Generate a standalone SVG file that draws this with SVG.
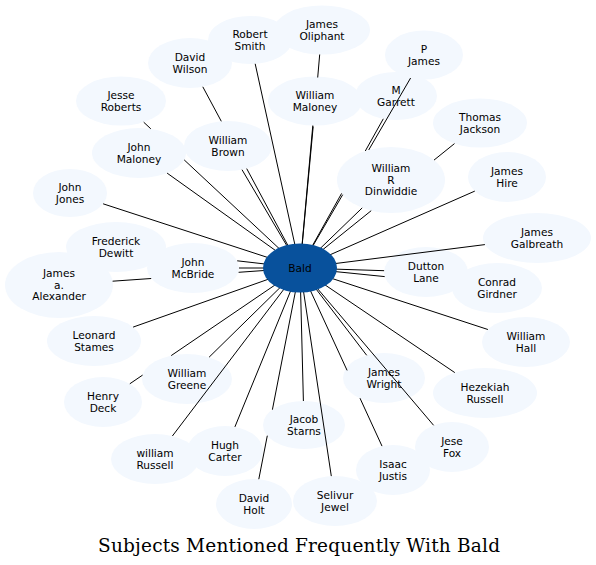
<svg xmlns="http://www.w3.org/2000/svg" width="596" height="565" viewBox="0 0 596 565">
<style>
.n ellipse{fill:#f3f8fe;stroke:none}
text{font-family:"DejaVu Sans",sans-serif;font-size:10.6px;text-anchor:middle;fill:#000}
#edges path{stroke:#000;stroke-width:1;fill:none}
#node-bald ellipse{fill:#08519c}
.title{font-family:"DejaVu Serif",serif;font-size:18.5px}
</style>
<rect width="596" height="565" fill="#fff"/>
<g id="nodes">
<g id="node-robert-smith" class="n"><ellipse cx="250" cy="40" rx="42" ry="24"/><text x="250" y="38">Robert<tspan x="250" dy="11.6">Smith</tspan></text></g>
<g id="node-james-oliphant" class="n"><ellipse cx="322" cy="30" rx="48" ry="24.5"/><text x="322" y="28">James<tspan x="322" dy="11.6">Oliphant</tspan></text></g>
<g id="node-david-wilson" class="n"><ellipse cx="190" cy="63" rx="42" ry="25"/><text x="190" y="61">David<tspan x="190" dy="11.6">Wilson</tspan></text></g>
<g id="node-william-maloney" class="n"><ellipse cx="315" cy="101" rx="47" ry="24.5"/><text x="315" y="99">William<tspan x="315" dy="11.6">Maloney</tspan></text></g>
<g id="node-p-james" class="n"><ellipse cx="424" cy="55" rx="39" ry="24.5"/><text x="424" y="53">P<tspan x="424" dy="11.6">James</tspan></text></g>
<g id="node-m-garrett" class="n"><ellipse cx="396" cy="96" rx="41" ry="24"/><text x="396" y="94">M<tspan x="396" dy="11.6">Garrett</tspan></text></g>
<g id="node-jesse-roberts" class="n"><ellipse cx="121" cy="101" rx="45" ry="24.5"/><text x="121" y="99">Jesse<tspan x="121" dy="11.6">Roberts</tspan></text></g>
<g id="node-john-maloney" class="n"><ellipse cx="139" cy="153" rx="47" ry="25"/><text x="139" y="151">John<tspan x="139" dy="11.6">Maloney</tspan></text></g>
<g id="node-william-brown" class="n"><ellipse cx="228" cy="146" rx="44" ry="25"/><text x="228" y="144">William<tspan x="228" dy="11.6">Brown</tspan></text></g>
<g id="node-thomas-jackson" class="n"><ellipse cx="480" cy="123" rx="47" ry="24.5"/><text x="480" y="121">Thomas<tspan x="480" dy="11.6">Jackson</tspan></text></g>
<g id="node-william-r-dinwiddie" class="n"><ellipse cx="391" cy="180" rx="54" ry="33"/><text x="391" y="172.2">William<tspan x="391" dy="11.6">R</tspan><tspan x="391" dy="11.6">Dinwiddie</tspan></text></g>
<g id="node-james-hire" class="n"><ellipse cx="507" cy="177" rx="39" ry="25"/><text x="507" y="175">James<tspan x="507" dy="11.6">Hire</tspan></text></g>
<g id="node-john-jones" class="n"><ellipse cx="70" cy="193" rx="37" ry="24"/><text x="70" y="191">John<tspan x="70" dy="11.6">Jones</tspan></text></g>
<g id="node-frederick-dewitt" class="n"><ellipse cx="116" cy="247" rx="50" ry="25"/><text x="116" y="245">Frederick<tspan x="116" dy="11.6">Dewitt</tspan></text></g>
<g id="node-john-mcbride" class="n"><ellipse cx="193" cy="268" rx="46" ry="25"/><text x="193" y="266">John<tspan x="193" dy="11.6">McBride</tspan></text></g>
<g id="node-james-a-alexander" class="n"><ellipse cx="59" cy="285" rx="54" ry="33"/><text x="59" y="277.2">James<tspan x="59" dy="11.6">a.</tspan><tspan x="59" dy="11.6">Alexander</tspan></text></g>
<g id="node-james-galbreath" class="n"><ellipse cx="537" cy="238" rx="54" ry="25"/><text x="537" y="236">James<tspan x="537" dy="11.6">Galbreath</tspan></text></g>
<g id="node-dutton-lane" class="n"><ellipse cx="426" cy="272" rx="42" ry="25"/><text x="426" y="270">Dutton<tspan x="426" dy="11.6">Lane</tspan></text></g>
<g id="node-conrad-girdner" class="n"><ellipse cx="497" cy="288" rx="45" ry="25"/><text x="497" y="286">Conrad<tspan x="497" dy="11.6">Girdner</tspan></text></g>
<g id="node-leonard-stames" class="n"><ellipse cx="94" cy="341" rx="47" ry="25"/><text x="94" y="339">Leonard<tspan x="94" dy="11.6">Stames</tspan></text></g>
<g id="node-william-hall" class="n"><ellipse cx="526" cy="342" rx="44" ry="25"/><text x="526" y="340">William<tspan x="526" dy="11.6">Hall</tspan></text></g>
<g id="node-william-greene" class="n"><ellipse cx="187" cy="379" rx="45" ry="25"/><text x="187" y="377">William<tspan x="187" dy="11.6">Greene</tspan></text></g>
<g id="node-henry-deck" class="n"><ellipse cx="103" cy="402" rx="39" ry="25"/><text x="103" y="400">Henry<tspan x="103" dy="11.6">Deck</tspan></text></g>
<g id="node-james-wright" class="n"><ellipse cx="384" cy="378" rx="41" ry="25"/><text x="384" y="376">James<tspan x="384" dy="11.6">Wright</tspan></text></g>
<g id="node-hezekiah-russell" class="n"><ellipse cx="485" cy="393" rx="52" ry="25"/><text x="485" y="391">Hezekiah<tspan x="485" dy="11.6">Russell</tspan></text></g>
<g id="node-jacob-starns" class="n"><ellipse cx="304" cy="425" rx="41" ry="24"/><text x="304" y="423">Jacob<tspan x="304" dy="11.6">Starns</tspan></text></g>
<g id="node-hugh-carter" class="n"><ellipse cx="225" cy="451" rx="38" ry="25"/><text x="225" y="449">Hugh<tspan x="225" dy="11.6">Carter</tspan></text></g>
<g id="node-william-russell" class="n"><ellipse cx="155" cy="459" rx="44" ry="25"/><text x="155" y="457">william<tspan x="155" dy="11.6">Russell</tspan></text></g>
<g id="node-jese-fox" class="n"><ellipse cx="452" cy="447" rx="37" ry="25"/><text x="452" y="445">Jese<tspan x="452" dy="11.6">Fox</tspan></text></g>
<g id="node-isaac-justis" class="n"><ellipse cx="393" cy="470" rx="37" ry="25"/><text x="393" y="468">Isaac<tspan x="393" dy="11.6">Justis</tspan></text></g>
<g id="node-david-holt" class="n"><ellipse cx="254" cy="504" rx="38" ry="25"/><text x="254" y="502">David<tspan x="254" dy="11.6">Holt</tspan></text></g>
<g id="node-selivur-jewel" class="n"><ellipse cx="335" cy="501" rx="42" ry="25"/><text x="335" y="499">Selivur<tspan x="335" dy="11.6">Jewel</tspan></text></g>
</g>
<g id="edges">
<path d="M300 268L255.2 63.8"/>
<path d="M300 268L313.2 126.5M317.7 77.5L319.7 54.5"/>
<path d="M300 268L312.8 125.5"/>
<path d="M300 268L246.7 168.6M221.3 121.3L202.8 86.8"/>
<path d="M300 268L242 169.7"/>
<path d="M300 268L184.2 159.9M150.8 128.8L143.7 122.2"/>
<path d="M300 268L167.1 173.1"/>
<path d="M300 268L103.1 203.8"/>
<path d="M300 268L237.2 260.8"/>
<path d="M300 268L239 268"/>
<path d="M300 268L238.6 272.3M151.2 278.5L112.6 281.2"/>
<path d="M300 268L133.1 327.1"/>
<path d="M300 268L171.2 355.6M142.6 375.1L129.8 383.8"/>
<path d="M300 268L209.1 357.2"/>
<path d="M300 268L172.4 436"/>
<path d="M300 268L234.9 426.9"/>
<path d="M300 268L272.4 409.7M267.3 435.7L258.8 479.2"/>
<path d="M300 268L303.4 401"/>
<path d="M300 268L331.3 476.1"/>
<path d="M300 268L366.7 355.3"/>
<path d="M300 268L347.1 370.4M360 398.2L382 446.1"/>
<path d="M300 268L433.6 425.3"/>
<path d="M300 268L454.8 372.6"/>
<path d="M300 268L487.9 329.5"/>
<path d="M300 268L384.7 276.6"/>
<path d="M300 268L384.1 270.7"/>
<path d="M300 268L484.9 244.6"/>
<path d="M300 268L474.8 191.1"/>
<path d="M300 268L371.2 210.7M434 160.1L454.5 143.6"/>
<path d="M300 268L362.2 207.9"/>
<path d="M300 268L341.6 193.4M365.3 151L383.3 118.8"/>
<path d="M300 268L342.7 194.7M368.7 150L410.6 78"/>
</g>
<g id="node-bald"><ellipse cx="300" cy="268" rx="37" ry="24.5"/><text x="300" y="271.8">Bald</text></g>
<text class="title" x="299" y="551.5" textLength="402">Subjects Mentioned Frequently With Bald</text>
</svg>
